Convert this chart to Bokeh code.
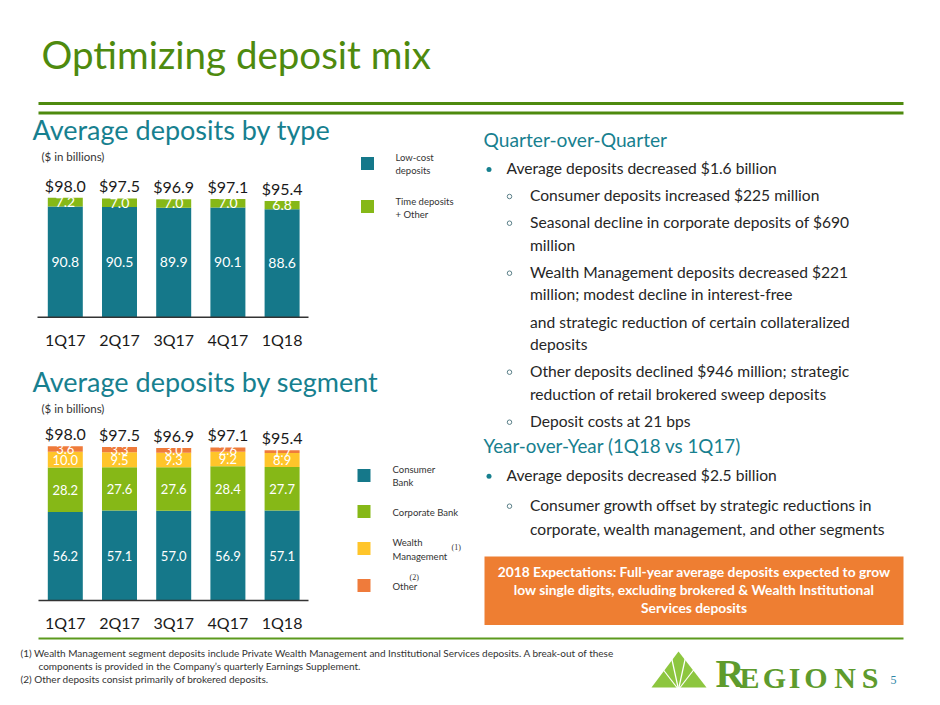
import numpy as np
from bokeh.plotting import figure
from bokeh.models import Range1d
from bokeh.embed import file_html
from bokeh.resources import INLINE
from bokeh.core.properties import value

# ---------------- data ----------------
quarters = ["1Q17", "2Q17", "3Q17", "4Q17", "1Q18"]
totals = [98.0, 97.5, 96.9, 97.1, 95.4]
type_lowcost = [90.8, 90.5, 89.9, 90.1, 88.6]
type_time_other = [7.2, 7.0, 7.0, 7.0, 6.8]
seg_consumer = [56.2, 57.1, 57.0, 56.9, 57.1]
seg_corporate = [28.2, 27.6, 27.6, 28.4, 27.7]
seg_wealth = [10.0, 9.5, 9.3, 9.2, 8.9]
seg_other = [3.6, 3.3, 3.0, 2.6, 1.7]

# ---------------- styles ----------------
FONT = "Lato"
SERIF = "Liberation Serif"
TEAL = "#15788A"
LIME = "#86B817"
YELLOW = "#FFC52A"
ORANGE = "#EF7B3B"
TITLE_GREEN = "#4E8A0E"
HEAD_TEAL = "#17808F"
DARK = "#262626"
# offset from alphabetic baseline to the "middle" anchor, in em
MID = {FONT: 0.39, SERIF: 0.34}

W, H = 932, 697
p = figure(width=W, height=H, x_range=Range1d(0, W), y_range=Range1d(H, 0),
           x_axis_type=None, y_axis_type=None, output_backend="svg",
           toolbar_location=None, min_border=0)
p.outline_line_color = None
p.background_fill_color = "white"
p.border_fill_color = "white"

# chart geometry in screen px
BAR_X0, BAR_DX, BAR_W = 64.8, 54.2, 35.0
C1_BASE, C1_SCALE = 316.7, 1.218
C2_BASE, C2_SCALE = 600.0, 1.5745
TOTAL_GAP = 6.5
TOTAL_SIZE = 16

p.extra_x_ranges = {"cx": Range1d((0 - BAR_X0) / BAR_DX, (W - BAR_X0) / BAR_DX)}
p.extra_y_ranges = {
    "c1": Range1d((C1_BASE - H) / C1_SCALE, C1_BASE / C1_SCALE),
    "c2": Range1d((C2_BASE - H) / C2_SCALE, C2_BASE / C2_SCALE),
}


def txt(x, y, s, size, color, font=FONT, align="left", baseline="middle", style="normal"):
    if baseline == "alphabetic":
        y = y - MID[font] * size
    p.text(x=[x], y=[y], text=[s], text_font=value(font), text_font_size=f"{size}px",
           text_color=color, text_align=align, text_baseline="middle", text_font_style=style)


idx = np.arange(len(quarters))
bw = BAR_W / BAR_DX


def stack(series, colors, rng, scale, label_size):
    bottom = np.zeros(len(quarters))
    for vals, col in zip(series, colors):
        vals = np.array(vals, dtype=float)
        top = bottom + vals
        p.vbar(x=idx, bottom=bottom, top=top, width=bw, fill_color=col, line_color=None,
               x_range_name="cx", y_range_name=rng)
        p.text(x=idx, y=(bottom + top) / 2, text=[f"{v:.1f}" for v in vals],
               text_font=value(FONT), text_font_size=f"{label_size}px", text_color="white",
               text_align="center", text_baseline="middle", x_range_name="cx", y_range_name=rng)
        bottom = top
    lift = (TOTAL_GAP + MID[FONT] * TOTAL_SIZE) / scale
    p.text(x=idx, y=np.array(totals) + lift, text=[f"${t:.1f}" for t in totals],
           text_font=value(FONT), text_font_size=f"{TOTAL_SIZE}px", text_color="#1a1a1a",
           text_align="center", text_baseline="middle", x_range_name="cx", y_range_name=rng)


def cat_labels(baseline_y):
    p.text(x=idx, y=[baseline_y - MID[FONT] * 16] * len(quarters), text=quarters,
           text_font=value(FONT), text_font_size="16px", text_color="#1a1a1a",
           text_align="center", text_baseline="middle", x_range_name="cx")


# ---------------- title & rules ----------------
txt(41, 69, "Optimizing deposit mix", 38.5, TITLE_GREEN, baseline="alphabetic")
p.segment(x0=[38, 38], y0=[103, 112.5], x1=[903, 903], y1=[103, 112.5],
          line_color=TITLE_GREEN, line_width=3)
p.segment(x0=[38], y0=[638], x1=[903], y1=[638], line_color="#5C9A1E", line_width=2)

# ---------------- chart 1 ----------------
txt(32, 140, "Average deposits by type", 27, HEAD_TEAL, baseline="alphabetic")
txt(41, 155.5, "($ in billions)", 11.5, "#333333")
stack([type_lowcost, type_time_other], [TEAL, LIME], "c1", C1_SCALE, 14)
p.segment(x0=[37], y0=[C1_BASE], x1=[308], y1=[C1_BASE], line_color="#333333", line_width=1.5)
cat_labels(345)

p.scatter(x=[367, 367], y=[163, 206], marker="square", size=13, fill_color=[TEAL, LIME],
          line_color=None)
txt(395, 157, "Low-cost", 9.5, "#333333")
txt(395, 170, "deposits", 9.5, "#333333")
txt(395, 201, "Time deposits", 9.5, "#333333")
txt(395, 214, "+ Other", 9.5, "#333333")

# ---------------- chart 2 ----------------
txt(32, 392, "Average deposits by segment", 27, HEAD_TEAL, baseline="alphabetic")
txt(41, 407.5, "($ in billions)", 11.5, "#333333")
stack([seg_consumer, seg_corporate, seg_wealth, seg_other], [TEAL, LIME, YELLOW, ORANGE],
      "c2", C2_SCALE, 13)
p.segment(x0=[38], y0=[C2_BASE], x1=[308], y1=[C2_BASE], line_color="#333333", line_width=1.5)
cat_labels(628)

p.scatter(x=[363.5] * 4, y=[475, 511, 548, 585], marker="square", size=13,
          fill_color=[TEAL, LIME, YELLOW, ORANGE], line_color=None)
txt(392, 469, "Consumer", 9.5, "#333333")
txt(392, 482, "Bank", 9.5, "#333333")
txt(392, 512, "Corporate Bank", 9.5, "#333333")
txt(392, 542, "Wealth", 9.5, "#333333")
txt(392, 556, "Management", 9.5, "#333333")
txt(451, 547, "(1)", 8, "#333333", font=SERIF)
txt(392, 586, "Other", 9.5, "#333333")
txt(409, 577, "(2)", 8, "#333333", font=SERIF)

# ---------------- right column ----------------
txt(483, 146, "Quarter-over-Quarter", 19.2, HEAD_TEAL, baseline="alphabetic")
bullets = [(174, 0, "Average deposits decreased $1.6 billion"),
           (201, 1, "Consumer deposits increased $225 million"),
           (227.7, 1, "Seasonal decline in corporate deposits of $690"),
           (250.7, 2, "million"),
           (277.7, 1, "Wealth Management deposits decreased $221"),
           (300, 2, "million; modest decline in interest-free"),
           (327.3, 2, "and strategic reduction of certain collateralized"),
           (350, 2, "deposits"),
           (376.7, 1, "Other deposits declined $946 million; strategic"),
           (400, 2, "reduction of retail brokered sweep deposits"),
           (426.7, 1, "Deposit costs at 21 bps")]
txt(483, 452, "Year-over-Year (1Q18 vs 1Q17)", 18.8, HEAD_TEAL, baseline="alphabetic")
bullets += [(480.7, 0, "Average deposits decreased $2.5 billion"),
            (510.7, 1, "Consumer growth offset by strategic reductions in"),
            (535, 2, "corporate, wealth management, and other segments")]
for yb, lvl, s in bullets:
    if lvl == 0:
        p.scatter(x=[488.5], y=[yb - 5], marker="circle", size=5, fill_color=HEAD_TEAL,
                  line_color=None)
        txt(506, yb, s, 15.6, DARK, baseline="alphabetic")
    else:
        if lvl == 1:
            p.scatter(x=[509], y=[yb - 5], marker="circle", size=4.5, fill_color=None,
                      line_color="#5a7f88", line_width=1)
        txt(529.5, yb, s, 15.6, DARK, baseline="alphabetic")

p.quad(left=[484], right=[903], top=[556], bottom=[624.5], fill_color="#EE7E32", line_color=None)
for yb, s in [(576, "2018 Expectations: Full-year average deposits expected to grow"),
              (594, "low single digits, excluding brokered & Wealth Institutional"),
              (612, "Services deposits")]:
    txt(693.5, yb, s, 13.8, "white", align="center", baseline="alphabetic", style="bold")

# ---------------- footnotes ----------------
txt(20, 652, "(1) Wealth Management segment deposits include Private Wealth Management and Institutional Services deposits. A break-out of these", 10, "#333333")
txt(38, 665, "components is provided in the Company\u2019s quarterly Earnings Supplement.", 10, "#333333")
txt(20, 678, "(2) Other deposits consist primarily of brokered deposits.", 10, "#333333")

# ---------------- logo ----------------
p.patch(x=[651, 678, 706], y=[687, 651, 687], fill_color="#8DC63F", line_color=None)
p.segment(x0=[678] * 4, y0=[689] * 4, x1=[661, 671, 685, 695], y1=[667, 657, 657, 667],
          line_color="white", line_width=1.2)
LOGO = "#5E9B2D"
txt(729.5, 687, "R", 40, LOGO, font=SERIF, align="center", baseline="alphabetic", style="bold")
for cx, ch in zip([749, 774, 794, 815.5, 844.5, 869.5], "EGIONS"):
    txt(cx, 687, ch, 30, LOGO, font=SERIF, align="center", baseline="alphabetic", style="bold")
txt(893, 684, "5", 12, "#2E86A8", font=SERIF, align="center", baseline="alphabetic")

open("out.html", "w").write(file_html(p, INLINE))
